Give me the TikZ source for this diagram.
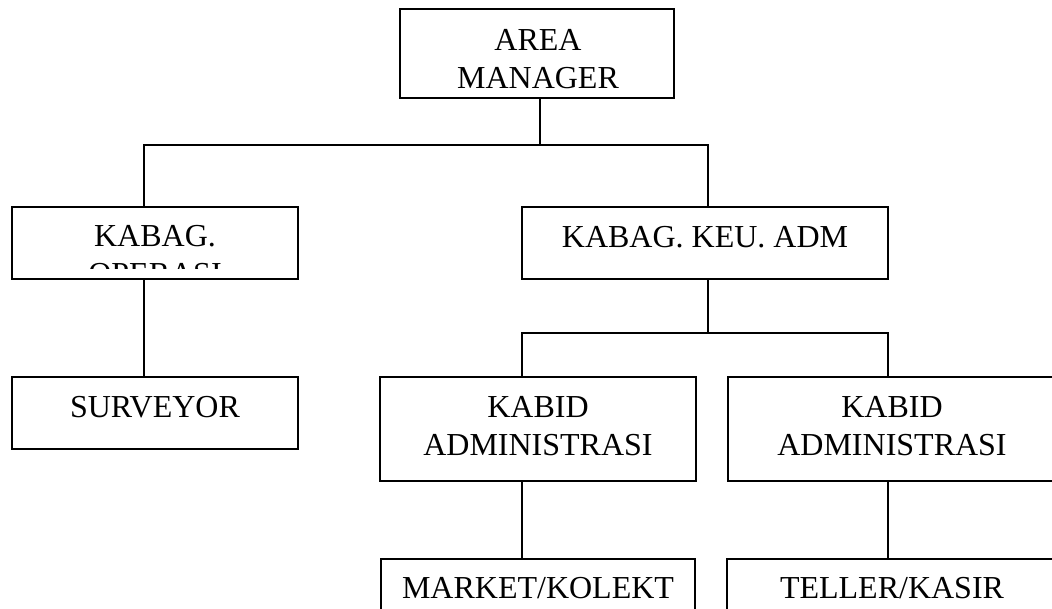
\documentclass[tikz,border=0pt]{standalone}
\usepackage{fontspec}
\setmainfont{Liberation Serif}
\begin{document}
\begin{tikzpicture}[x=1pt,y=-1pt,
  box/.style={draw, rectangle, line width=1.5pt, inner sep=0pt, outer sep=0pt},
  lbl/.style={inner sep=0pt, align=center, font=\fontsize{32}{38}\selectfont},
  conn/.style={line width=1.5pt}]
\useasboundingbox (0,0) rectangle (1052,609);
\clip (0,0) rectangle (1052,609);
% boxes
\node[box, minimum width=274pt, minimum height=89pt] (am) at (537,53.5) {};
\node[box, minimum width=286pt, minimum height=72pt] (kops) at (155,243) {};
\node[box, minimum width=366pt, minimum height=72pt] (kkeu) at (705,243) {};
\node[box, minimum width=286pt, minimum height=72pt] (surv) at (155,413) {};
\node[box, minimum width=316pt, minimum height=104pt] (kab1) at (538,429) {};
\node[box, minimum width=328pt, minimum height=104pt] (kab2) at (892,429) {};
\node[box, minimum width=314pt, minimum height=72pt] (mkt) at (538,595) {};
\node[box, minimum width=330pt, minimum height=72pt] (tel) at (892,595) {};
% labels
\node[lbl] (tam) at (538,59.5) {AREA\\MANAGER};
\node[lbl] (tkeu) at (705,237.5) {KABAG. KEU. ADM};
\begin{scope}
\clip (kops.north west) rectangle ([yshift=10pt]kops.south east);
\node[lbl] (tops) at (155,255) {KABAG.\\OPERASI};
\end{scope}
\node[lbl] (tsurv) at (155,407.5) {SURVEYOR};
\node[lbl] (tkab1) at (538,426.5) {KABID\\ADMINISTRASI};
\node[lbl] (tkab2) at (892,426.5) {KABID\\ADMINISTRASI};
\node[lbl] (tmkt) at (538,588) {MARKET/KOLEKT};
\node[lbl] (ttel) at (892,588) {TELLER/KASIR};
% junctions
\coordinate (j1) at (540,145);
\coordinate (jl) at (144,145);
\coordinate (jr) at (708,145);
\coordinate (j2) at (708,333);
\coordinate (jl2) at (522,333);
\coordinate (jr2) at (888,333);
% connectors
\draw[conn] (j1 |- am.south) -- (j1);
\draw[conn] (jl |- kops.north) -- (jl) -- (jr) -- (jr |- kkeu.north);
\draw[conn] (j2 |- kkeu.south) -- (j2);
\draw[conn] (jl2 |- kab1.north) -- (jl2) -- (jr2) -- (jr2 |- kab2.north);
\draw[conn] (jl |- kops.south) -- (jl |- surv.north);
\draw[conn] (jl2 |- kab1.south) -- (jl2 |- mkt.north);
\draw[conn] (jr2 |- kab2.south) -- (jr2 |- tel.north);
\end{tikzpicture}
\end{document}
